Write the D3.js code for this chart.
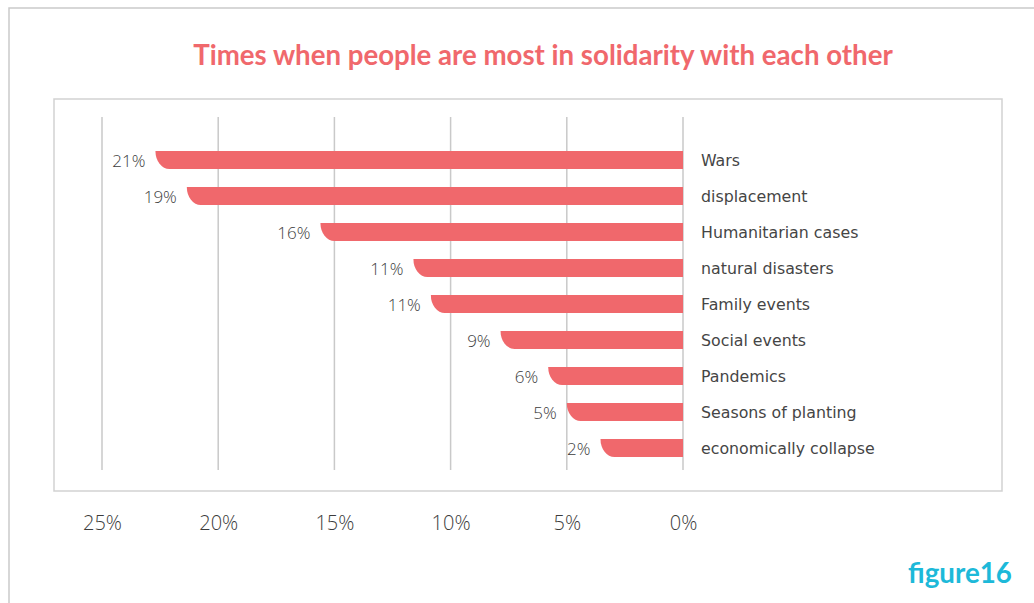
<!DOCTYPE html>
<html>
<head>
<meta charset="utf-8">
<script src="https://cdn.jsdelivr.net/npm/d3@7"></script>
<style>
  html, body { margin: 0; padding: 0; background: #fff; }
  svg { display: block; }
</style>
</head>
<body>
<svg id="chart" width="1034" height="603"></svg>
<script>
// ---- data ----
const categories = ["Wars", "displacement", "Humanitarian cases", "natural disasters",
  "Family events", "Social events", "Pandemics", "Seasons of planting", "economically collapse"];
// bar lengths as drawn (percent)
const barValues = [22.7, 21.35, 15.6, 11.6, 10.85, 7.85, 5.8, 5.0, 3.55];
// data labels as printed
const labelValues = [21, 19, 16, 11, 11, 9, 6, 5, 2];
const tickValues = [25, 20, 15, 10, 5, 0];
const title = "Times when people are most in solidarity with each other";
const figureLabel = "figure16";

// ---- drawing ----
const svg = d3.select("#chart");
const barColor = "#f0686c";
const textColor = "#3c3c3c";
const gridColor = "#c9c9c9";

// outer frame
svg.append("rect").attr("x", 9).attr("y", 8).attr("width", 1100).attr("height", 700)
  .attr("fill", "none").attr("stroke", "#cacaca").attr("stroke-width", 1.5);
// inner plot frame
svg.append("rect").attr("x", 54).attr("y", 99).attr("width", 948).attr("height", 392)
  .attr("fill", "none").attr("stroke", "#d2d2d2").attr("stroke-width", 1.5);

const x = d3.scaleLinear().domain([0, 25]).range([683, 102]);
const y = d3.scaleBand().domain(categories).range([142, 466]).paddingInner(0.5).paddingOuter(0.25);

// gridlines
svg.append("g").selectAll("line").data(tickValues).join("line")
  .attr("x1", d => x(d)).attr("x2", d => x(d))
  .attr("y1", 117).attr("y2", 470)
  .attr("stroke", gridColor).attr("stroke-width", 1.5);

// bottom axis labels
const axis = d3.axisBottom(x).tickValues(tickValues).tickFormat(d => d + "%").tickSize(0).tickPadding(0);
const gAxis = svg.append("g").attr("transform", "translate(0,516)").call(axis);
gAxis.select(".domain").remove();
gAxis.selectAll("text").attr("font-family", "'Open Sans', sans-serif").attr("font-weight", 300)
  .attr("font-size", 20).attr("fill", textColor).attr("dy", "0.71em");

// bars with rounded bottom-left corner
const bh = y.bandwidth();
svg.append("g").selectAll("path").data(categories).join("path")
  .attr("fill", barColor)
  .attr("d", (c, i) => {
    const l = x(barValues[i]), r = x(0), t = y(c), b = t + bh;
    const rx = Math.min(14, r - l), ry = bh;
    return `M${r},${t}H${l}A${rx},${ry} 0 0 0 ${l + rx},${b}H${r}Z`;
  });

// data labels
svg.append("g").selectAll("text").data(categories).join("text")
  .attr("x", (c, i) => x(barValues[i]) - 10)
  .attr("y", c => y(c) + bh / 2 + 1)
  .attr("dy", "0.36em")
  .attr("text-anchor", "end")
  .attr("font-family", "'Open Sans', sans-serif").attr("font-weight", 300)
  .attr("font-size", 17).attr("fill", textColor)
  .text((c, i) => labelValues[i] + "%");

// category labels
svg.append("g").selectAll("text").data(categories).join("text")
  .attr("x", 701)
  .attr("y", c => y(c) + bh / 2)
  .attr("dy", "0.36em")
  .attr("font-family", "'DejaVu Sans', sans-serif")
  .attr("font-size", 15.8).attr("fill", "#454545")
  .text(c => c);

// title
const t = svg.append("text").attr("x", 543).attr("y", 65).attr("text-anchor", "middle")
  .attr("font-family", "Lato, sans-serif").attr("font-weight", 700)
  .attr("font-size", 24).attr("fill", "#f0686c").text(title);
let w = t.node().getComputedTextLength();
t.attr("font-size", 24 * 700 / w);

// figure label
const f = svg.append("text").attr("x", 960).attr("y", 583).attr("text-anchor", "middle")
  .attr("font-family", "Lato, sans-serif").attr("font-weight", 700)
  .attr("font-size", 26).attr("fill", "#1db9d9").text(figureLabel);
w = f.node().getComputedTextLength();
f.attr("font-size", 26 * 104 / w);
</script>
</body>
</html>
